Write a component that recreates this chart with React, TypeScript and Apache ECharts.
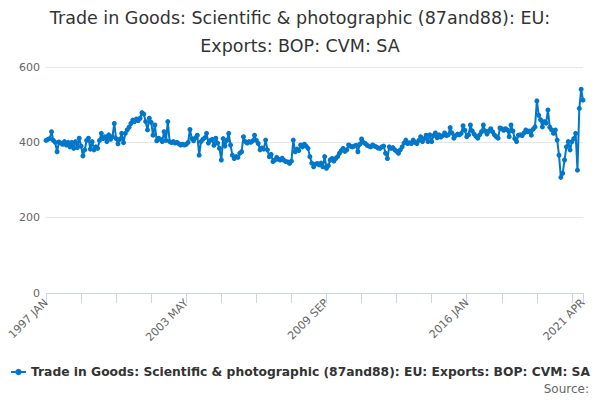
import * as echarts from 'echarts'
import { useEffect, useRef } from 'react'

const titleText =
  'Trade in Goods: Scientific & photographic (87and88): EU:\nExports: BOP: CVM: SA'
const seriesName =
  'Trade in Goods: Scientific & photographic (87and88): EU: Exports: BOP: CVM: SA'

const firstYear = 1997
const monthNames = ['JAN', 'FEB', 'MAR', 'APR', 'MAY', 'JUN', 'JUL', 'AUG', 'SEP', 'OCT', 'NOV', 'DEC']

// monthly values, one row per year (1997 JAN .. 2021 APR)
const exportsValues = [
  405, 408, 410, 428, 405, 400, 375, 401, 398, 395, 402, 393,
  400, 388, 400, 384, 402, 386, 411, 390, 364, 380, 405, 411,
  382, 402, 380, 388, 384, 405, 424, 410, 415, 402, 420, 408,
  415, 450, 410, 396, 408, 424, 399, 424, 433, 440, 450, 459,
  455, 462, 458, 464, 479, 475, 455, 433, 464, 453, 419, 446,
  404, 411, 408, 402, 428, 405, 455, 402, 399, 402, 398, 400,
  396, 393, 395, 393, 395, 400, 434, 410, 404, 412, 419, 366,
  402, 408, 412, 424, 398, 405, 408, 392, 411, 398, 384, 353,
  410, 390, 405, 424, 393, 366, 357, 362, 360, 371, 375, 415,
  402, 398, 402, 400, 404, 419, 405, 397, 380, 385, 382, 406,
  380, 362, 368, 349, 353, 360, 355, 353, 358, 352, 349, 348,
  344, 350, 406, 375, 382, 378, 393, 388, 395, 390, 384, 362,
  345, 335, 342, 344, 340, 345, 335, 362, 331, 338, 353, 357,
  350, 357, 362, 371, 378, 384, 376, 380, 393, 390, 388, 390,
  392, 375, 395, 409, 400, 397, 392, 390, 388, 393, 390, 388,
  385, 384, 388, 390, 371, 357, 388, 384, 386, 380, 376, 371,
  380, 388, 398, 406, 397, 399, 397, 406, 400, 397, 405, 415,
  402, 410, 419, 402, 420, 402, 418, 425, 412, 420, 414, 418,
  425, 418, 420, 439, 425, 411, 418, 422, 420, 424, 444, 432,
  415, 420, 446, 430, 422, 416, 411, 420, 428, 446, 430, 422,
  430, 436, 428, 420, 415, 411, 438, 436, 432, 436, 433, 415,
  446, 430, 410, 402, 419, 420, 418, 425, 433, 428, 430, 419,
  435, 441, 510, 472, 460, 441, 455, 451, 486, 440, 433, 424,
  433, 406, 366, 307, 318, 353, 388, 402, 380, 402, 410, 424,
  326, 490, 541, 512
]

const yTicks = [0, 200, 400, 600]

const categories = exportsValues.map(
  (_, i) => `${firstYear + Math.floor(i / 12)} ${monthNames[i % 12]}`
)

const fontFamily = 'DejaVu Sans, Verdana, sans-serif'

function App() {
  const chartRef = useRef<HTMLDivElement>(null)

  useEffect(() => {
    if (!chartRef.current) return
    document.body.style.margin = '0'
    const chart = echarts.init(chartRef.current, undefined, { renderer: 'svg' })
    chart.setOption({
      animation: false,
      backgroundColor: '#ffffff',
      textStyle: { fontFamily },
      title: [
        {
          text: titleText,
          left: 300,
          top: 4,
          padding: 0,
          textAlign: 'center',
          textStyle: {
            fontFamily,
            fontSize: 17.5,
            fontWeight: 'normal',
            color: '#333333',
            lineHeight: 28
          }
        },
        {
          text: 'Source:',
          right: 11,
          top: 383,
          padding: 0,
          textStyle: {
            fontFamily,
            fontSize: 12,
            fontWeight: 'normal',
            color: '#666666'
          }
        }
      ],
      legend: {
        left: 10,
        top: 366,
        padding: 0,
        itemWidth: 15,
        itemHeight: 8,
        textStyle: {
          fontFamily,
          fontSize: 12.3,
          fontWeight: 'bold',
          color: '#333333'
        },
        data: [seriesName]
      },
      grid: { left: 46, right: 17, top: 67, bottom: 107 },
      xAxis: {
        type: 'category',
        data: categories,
        boundaryGap: false,
        axisLine: { lineStyle: { color: '#ccd6eb' } },
        axisTick: {
          interval: 18,
          length: 10,
          lineStyle: { color: '#ccd6eb' }
        },
        axisLabel: {
          interval: 75,
          rotate: 45,
          showMaxLabel: true,
          color: '#666666',
          fontSize: 11,
          fontFamily,
          margin: 8
        }
      },
      yAxis: {
        type: 'value',
        min: yTicks[0],
        max: yTicks[yTicks.length - 1],
        interval: 200,
        axisLine: { show: false },
        axisTick: { show: false },
        splitLine: { lineStyle: { color: '#e6e6e6' } },
        axisLabel: { color: '#666666', fontSize: 11, fontFamily, margin: 6 }
      },
      series: [
        {
          name: seriesName,
          type: 'line',
          data: exportsValues,
          color: '#0077c8',
          lineStyle: { width: 2 },
          symbol: 'circle',
          symbolSize: 5,
          showSymbol: true,
          showAllSymbol: true
        }
      ]
    })
    return () => {
      chart.dispose()
    }
  }, [])

  return <div ref={chartRef} style={{ width: 600, height: 400 }} />
}

export default App
